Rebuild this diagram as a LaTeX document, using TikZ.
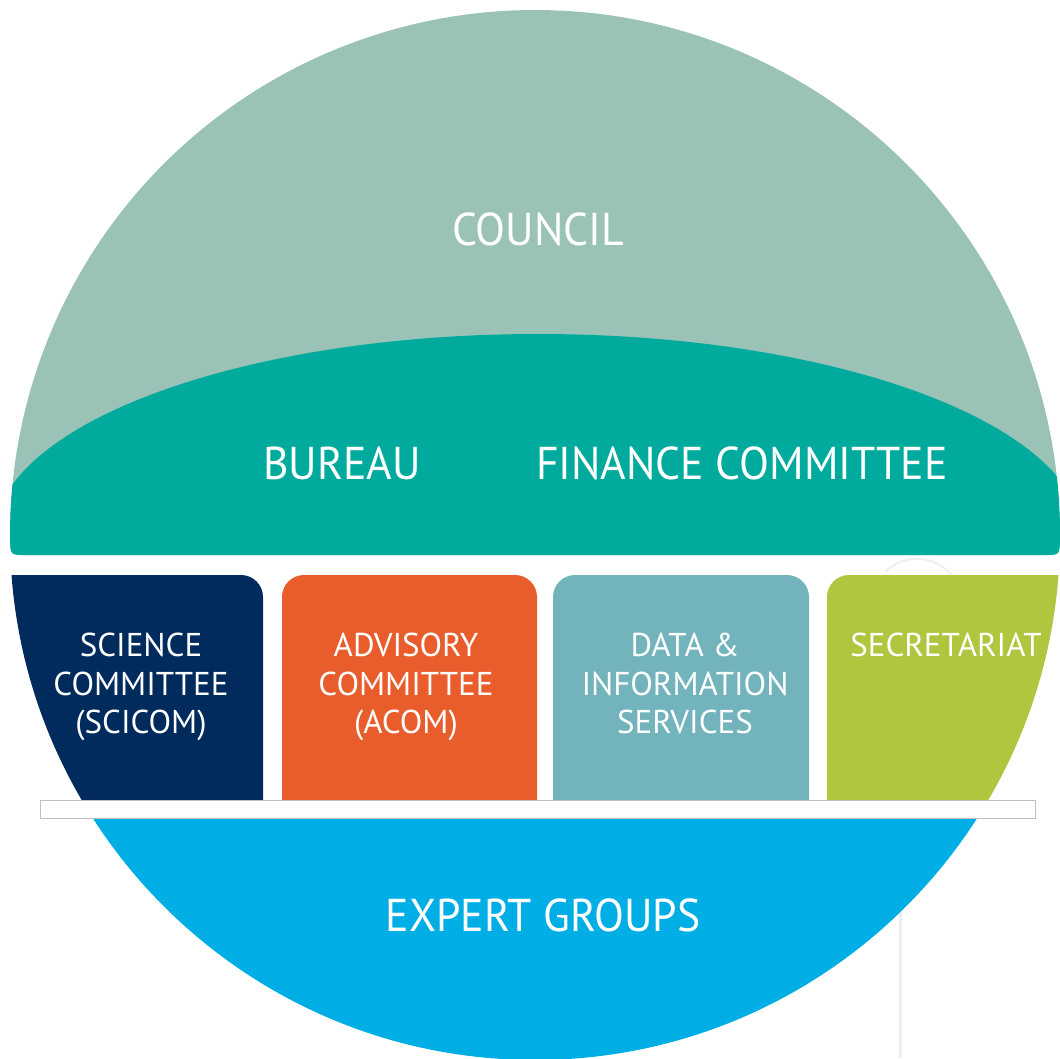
\documentclass[tikz,border=0pt]{standalone}
\usepackage{fontspec}
\setmainfont{PT Sans}
\newfontfamily\bigfont[FakeStretch=0.95]{PT Sans}
\definecolor{councilc}{HTML}{9AC2B6}
\definecolor{bureauc}{HTML}{00AB9D}
\definecolor{scicomc}{HTML}{002B5C}
\definecolor{acomc}{HTML}{E95D2C}
\definecolor{datac}{HTML}{72B3BC}
\definecolor{secrc}{HTML}{AFC63E}
\definecolor{expertc}{HTML}{00AEE6}
\definecolor{ghostc}{HTML}{ECEFF3}
\newcommand{\capshape}{(26,555) -- (1044,555) .. controls (1059.6,555) .. (1059.98,539)
  arc[start angle=0.437, end angle=-180.437, radius=525]
  .. controls (10.38,555) .. (26,555) -- cycle}
\newcommand{\topbox}[2]{(#1,800) -- (#1,597) arc[start angle=180, end angle=270, radius=22]
  -- ({#2-22},575) arc[start angle=270, end angle=360, radius=22] -- (#2,800) -- cycle}
\begin{document}
\begin{tikzpicture}[x=1pt,y=-1pt,
  bigtext/.style={text=white, font=\bigfont\fontsize{46}{50}\selectfont, inner sep=0pt},
  boxtext/.style={text=white, font=\fontsize{33}{38.5}\selectfont, align=center, inner sep=0pt, anchor=north},
  ghost/.style={draw=ghostc, line width=3pt}]
\useasboundingbox (0,0) rectangle (1060,1058);
% faint background traces
\draw[ghost] (900,912) -- (900,1058);
\draw[ghost, line width=2pt] (885,572) arc[start angle=225, end angle=320, radius=45];
% council and bureau cap
\begin{scope}
  \clip \capshape;
  \fill[councilc] (0,0) rectangle (1060,560);
  \fill[bureauc] (538,539) ellipse [x radius=545, y radius=205];
\end{scope}
% middle boxes
\begin{scope}
  \clip (535,535) circle (525);
  \fill[scicomc] (263,800) -- (263,597) arc[start angle=0, end angle=-90, radius=22] -- (-20,575) -- (-20,800) -- cycle;
  \fill[secrc] \topbox{827}{1100};
  \fill[expertc] (0,818) rectangle (1060,1070);
\end{scope}
\fill[acomc] \topbox{282}{537};
\fill[datac] \topbox{553}{809};
% white bar
\filldraw[fill=white, draw=black!25, line width=1pt] (40,800) rectangle (1035,818);
% texts
\node[bigtext] (council) at (538,229) {COUNCIL};
\node[bigtext] (bureau) at (342,463) {BUREAU};
\node[bigtext] (finance) at (742,463) {FINANCE COMMITTEE};
\node[boxtext] (scicom) at (141,633) {SCIENCE\\COMMITTEE\\(SCICOM)};
\node[boxtext] (acom) at (406,633) {ADVISORY\\COMMITTEE\\(ACOM)};
\node[boxtext] (data) at (685,633) {DATA \&\\INFORMATION\\SERVICES};
\node[boxtext] (secr) at (946,633) {SECRETARIAT};
\node[bigtext] (expert) at (543,915) {EXPERT GROUPS};
\end{tikzpicture}
\end{document}
